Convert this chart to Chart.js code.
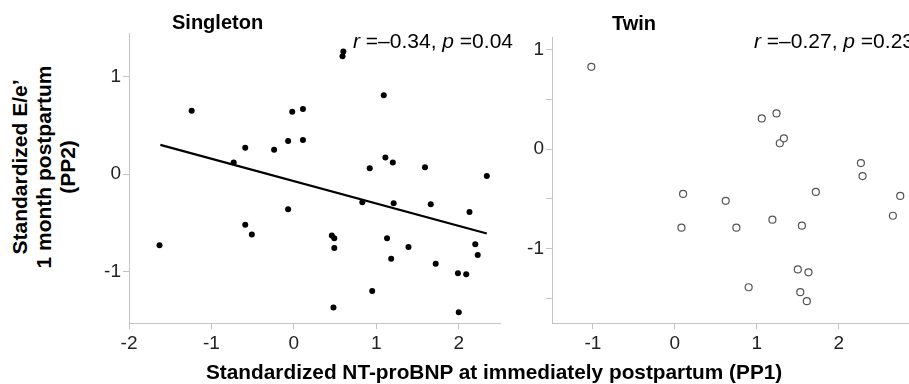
<!DOCTYPE html>
<html>
<head>
<meta charset="utf-8">
<script src="https://cdn.jsdelivr.net/npm/chart.js@4"></script>
<style>
  html, body { margin:0; padding:0; background:#fff; }
  body { width:909px; height:384px; position:relative; overflow:hidden; font-family:'Liberation Sans', Arial, sans-serif; color:#000; }
  .box { position:absolute; }
  .txt { position:absolute; white-space:nowrap; font-size:20px; line-height:20px; }
  .bold { font-weight:bold; }
  #ytitle { position:absolute; left:-86px; top:131px; width:260px; height:72px; text-align:center; font-weight:bold; font-size:21px; line-height:24px; transform:rotate(-90deg); white-space:nowrap; }
</style>
</head>
<body>
<div class="box" style="left:89px;top:0;width:420px;height:384px"><canvas id="left"></canvas></div>
<div class="box" style="left:512px;top:0;width:417px;height:384px"><canvas id="right"></canvas></div>

<div class="txt bold" style="left:172px;top:12px">Singleton</div>
<div class="txt bold" style="left:612px;top:13px">Twin</div>
<div class="txt" style="left:353px;top:31px;font-size:21px"><i>r</i> =–0.34, <i>p</i> =0.04</div>
<div class="txt" style="left:754px;top:31px;font-size:21px"><i>r</i> =–0.27, <i>p</i> =0.23</div>
<div id="ytitle">Standardized E/e’<br>1 month postpartum<br>(PP2)</div>
<div class="txt bold" style="left:206px;top:362px;font-size:20.8px">Standardized NT-proBNP at immediately postpartum (PP1)</div>

<script>
		// Singleton 組（實心點）
		const singletonX = [-1.24, -0.73, -0.59, -0.24, -0.07, -0.02, 0.11, 0.11, 0.60, 0.59, 1.09, 0.92, 1.11, 1.20, 1.59, 2.34,
			-1.63, -0.59, -0.51, -0.07, 0.46, 0.49, 0.49, 0.83, 1.21, 1.66, 2.13, 1.13, 1.18, 1.39, 1.72, 1.99, 2.09, 2.20, 2.23, 0.95, 0.48, 2.00]
		const singletonY = [0.65, 0.12, 0.27, 0.25, 0.34, 0.64, 0.67, 0.35, 1.26, 1.21, 0.81, 0.06, 0.17, 0.12, 0.07, -0.02,
			-0.73, -0.52, -0.62, -0.36, -0.63, -0.66, -0.76, -0.29, -0.30, -0.31, -0.39, -0.66, -0.87, -0.75, -0.92, -1.02, -1.03, -0.72, -0.83, -1.20, -1.37, -1.42]

		// 回歸線兩端
		const fitX = [-1.62, 2.34]
		const fitY = [0.30, -0.61]

		// Twin 組（空心點）
		const twinX = [-1.02, 1.06, 1.24, 1.28, 1.33, 2.27, 2.29, 0.10, 0.08, 0.62, 0.75, 0.90, 1.19, 1.55, 1.72, 1.50, 1.63, 1.53, 1.61, 2.75, 2.66]
		const twinY = [0.83, 0.31, 0.36, 0.06, 0.11, -0.14, -0.27, -0.45, -0.79, -0.52, -0.79, -1.39, -0.71, -0.77, -0.43, -1.21, -1.24, -1.44, -1.53, -0.47, -0.67]

		// 刻度
		const leftXTicks = [-2, -1, 0, 1, 2]
		const leftYTicks = [-1, 0, 1]
		const rightXTicks = [-1, 0, 1, 2, 3]
		const rightYTicks = [-1.5, -1, -0.5, 0, 0.5, 1]

		const toPoints = (xs, ys) => xs.map((x, i) => ({ x: x, y: ys[i] }))

		const axisColor = '#c4c4c4'
		const tickFont = { family: "'Liberation Sans', Arial, sans-serif", size: 19 }

		class PanelUtil{
			static scale(min , max , ticks , isX , labelAll){
				return {
					type: 'linear',
					min: min,
					max: max,
					border: { display: true, color: axisColor, width: 1 },
					grid: { drawOnChartArea: false, drawTicks: true, tickLength: 6, color: axisColor, lineWidth: 1 },
					ticks: {
						color: '#222',
						font: tickFont,
						padding: isX ? 3 : 2,
						autoSkip: false,
						maxRotation: 0,
						callback: (v) => (labelAll || Number.isInteger(v)) ? String(v) : ''
					},
					afterBuildTicks: (s) => { s.ticks = ticks.map(v => ({ value: v })) },
					afterFit: (s) => { if (isX) { s.height = 40 } else { s.width = 40 } }
				}
			}

			static draw(canvasObj , datasets , xScale , yScale , padding){
				return new Chart(canvasObj, {
					type: 'scatter',
					data: { datasets: datasets },
					options: {
						responsive: true,
						maintainAspectRatio: false,
						animation: false,
						layout: { padding: padding },
						plugins: { legend: { display: false }, tooltip: { enabled: false } },
						scales: { x: xScale, y: yScale }
					}
				})
			}
		}

		PanelUtil.draw(document.getElementById('left'), [
			{
				data: toPoints(singletonX, singletonY),
				pointRadius: 3,
				pointBackgroundColor: '#000',
				pointBorderColor: '#000',
				pointBorderWidth: 0
			},
			{
				data: toPoints(fitX, fitY),
				showLine: true,
				borderColor: '#000',
				borderWidth: 2.2,
				pointRadius: 0
			}
		],
			PanelUtil.scale(-2, 2.5, leftXTicks, true, true),
			PanelUtil.scale(-1.53, 1.45, leftYTicks, false, true),
			{ left: 0, top: 33, right: 9, bottom: 21 })

		PanelUtil.draw(document.getElementById('right'), [
			{
				data: toPoints(twinX, twinY),
				pointRadius: 3.5,
				pointBackgroundColor: '#fff',
				pointBorderColor: '#555',
				pointBorderWidth: 1.2
			}
		],
			PanelUtil.scale(-1.5, 3, rightXTicks, true, true),
			PanelUtil.scale(-1.75, 1.13, rightYTicks, false, false),
			{ left: 0, top: 37, right: 5, bottom: 21 })
</script>
</body>
</html>
